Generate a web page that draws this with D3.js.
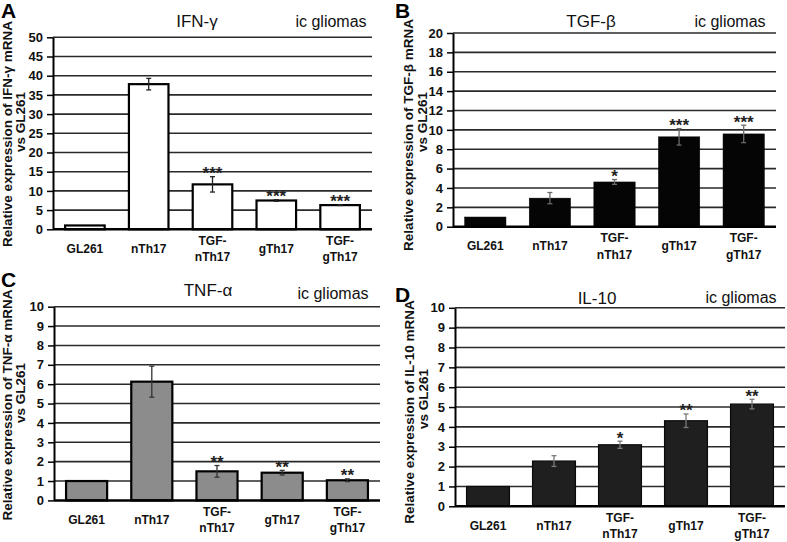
<!DOCTYPE html>
<html>
<head>
<meta charset="utf-8">
<script src="https://cdn.jsdelivr.net/npm/d3@7"></script>
<style>
  html, body { margin: 0; padding: 0; background: #fff; }
  svg { display: block; font-family: "Liberation Sans", Arial, sans-serif; }
</style>
</head>
<body>
<script>
// ---------- DATA ----------
const categories = ["GL261", "nTh17", "TGF-nTh17", "gTh17", "TGF-gTh17"];
const categoryLines = [["GL261"], ["nTh17"], ["TGF-", "nTh17"], ["gTh17"], ["TGF-", "gTh17"]];

const ifngValues = [1.0, 37.8, 11.7, 7.5, 6.3];
const ifngErrors = [0, 1.5, 2.0, 0.2, 0.1];
const ifngStars  = ["", "", "***", "***", "***"];
const ifngTicks  = [0, 5, 10, 15, 20, 25, 30, 35, 40, 45, 50];

const tgfbValues = [1.0, 2.95, 4.62, 9.28, 9.58];
const tgfbErrors = [0, 0.58, 0.25, 0.85, 0.9];
const tgfbStars  = ["", "", "*", "***", "***"];
const tgfbTicks  = [0, 2, 4, 6, 8, 10, 12, 14, 16, 18, 20];

const tnfaValues = [1.0, 6.13, 1.5, 1.43, 1.04];
const tnfaErrors = [0, 0.8, 0.3, 0.12, 0.07];
const tnfaStars  = ["", "", "**", "**", "**"];
const tnfaTicks  = [0, 1, 2, 3, 4, 5, 6, 7, 8, 9, 10];

const il10Values = [1.0, 2.28, 3.1, 4.31, 5.15];
const il10Errors = [0, 0.27, 0.18, 0.34, 0.24];
const il10Stars  = ["", "", "*", "**", "**"];
const il10Ticks  = [0, 1, 2, 3, 4, 5, 6, 7, 8, 9, 10];

const panelLetters = ["A", "B", "C", "D"];
const panelTitles = ["IFN-γ", "TGF-β", "TNF-α", "IL-10"];
const subTitle = "ic gliomas";
const yTitles = [
  ["Relative expression of IFN-γ mRNA", "vs GL261"],
  ["Relative expression of TGF-β mRNA", "vs GL261"],
  ["Relative expression of TNF-α mRNA", "vs GL261"],
  ["Relative expression of IL-10 mRNA", "vs GL261"]
];

// ---------- LAYOUT / STYLE ----------
const panels = [
  { values: ifngValues, errors: ifngErrors, stars: ifngStars, ticks: ifngTicks,
    x0: 53, x1: 372, y0: 229.3, y1: 37.3, pad: 0.38,
    fill: "#ffffff", stroke: "#000", strokeW: 2.2, errColor: "#222",
    letterX: 1, letterY: 18, titleX: 197, titleY: 27, subX: 331, subY: 27,
    yt1x: 11.5, yt1y: 134, yt2x: 24.5, yt2y: 122 },
  { values: tgfbValues, errors: tgfbErrors, stars: tgfbStars, ticks: tgfbTicks,
    x0: 453, x1: 776, y0: 226.7, y1: 33, pad: 0.36,
    fill: "#050505", stroke: "#050505", strokeW: 0.5, errColor: "#6a6a6a",
    letterX: 395, letterY: 18, titleX: 591, titleY: 27, subX: 730, subY: 27,
    yt1x: 413, yt1y: 135, yt2x: 426.5, yt2y: 122 },
  { values: tnfaValues, errors: tnfaErrors, stars: tnfaStars, ticks: tnfaTicks,
    x0: 54, x1: 380, y0: 500.4, y1: 306.7, pad: 0.37,
    fill: "#8c8c8c", stroke: "#000", strokeW: 2.2, errColor: "#333",
    letterX: 1, letterY: 287, titleX: 208, titleY: 296, subX: 333, subY: 299,
    yt1x: 11.5, yt1y: 405, yt2x: 24.5, yt2y: 393 },
  { values: il10Values, errors: il10Errors, stars: il10Stars, ticks: il10Ticks,
    x0: 455, x1: 785, y0: 506.3, y1: 307.8, pad: 0.35,
    fill: "#1f1f1f", stroke: "#0a0a0a", strokeW: 1.2, errColor: "#7a7a7a",
    letterX: 395, letterY: 302, titleX: 597, titleY: 304, subX: 741, subY: 303,
    yt1x: 414, yt1y: 412, yt2x: 427.5, yt2y: 399 }
];

const svg = d3.select("body").append("svg")
  .attr("width", 787).attr("height", 542);

svg.append("rect").attr("width", 787).attr("height", 542).attr("fill", "#fff");

panels.forEach((p, i) => {
  const g = svg.append("g");
  const maxV = p.ticks[p.ticks.length - 1];
  const x = d3.scaleBand().domain(categories).range([p.x0, p.x1])
    .paddingInner(p.pad).paddingOuter(p.pad / 2);
  const y = d3.scaleLinear().domain([0, maxV]).range([p.y0, p.y1]);

  // gridlines
  g.append("g").selectAll("line")
    .data(p.ticks.filter(t => t !== 0))
    .join("line")
    .attr("x1", p.x0).attr("x2", p.x1)
    .attr("y1", d => y(d)).attr("y2", d => y(d))
    .attr("stroke", "#2a2a2a").attr("stroke-width", 1.6);

  // bars
  const rows = categories.map((c, k) => ({ c, v: p.values[k], e: p.errors[k], s: p.stars[k], lines: categoryLines[k] }));
  g.append("g").selectAll("rect")
    .data(rows).join("rect")
    .attr("x", d => x(d.c)).attr("width", x.bandwidth())
    .attr("y", d => y(d.v)).attr("height", d => y(0) - y(d.v))
    .attr("fill", p.fill).attr("stroke", p.stroke).attr("stroke-width", p.strokeW);

  // error bars
  const eg = g.append("g").attr("stroke", p.errColor).attr("stroke-width", 1.3);
  rows.filter(d => d.e > 0).forEach(d => {
    const cx = x(d.c) + x.bandwidth() / 2;
    eg.append("line").attr("x1", cx).attr("x2", cx).attr("y1", y(d.v - d.e)).attr("y2", y(d.v + d.e));
    eg.append("line").attr("x1", cx - 2.5).attr("x2", cx + 2.5).attr("y1", y(d.v - d.e)).attr("y2", y(d.v - d.e));
    eg.append("line").attr("x1", cx - 2.5).attr("x2", cx + 2.5).attr("y1", y(d.v + d.e)).attr("y2", y(d.v + d.e));
  });

  // significance stars
  g.append("g").selectAll("text")
    .data(rows.filter(d => d.s)).join("text")
    .attr("x", d => x(d.c) + x.bandwidth() / 2)
    .attr("y", d => y(d.v + d.e) + 2.5)
    .attr("text-anchor", "middle")
    .attr("font-size", 17).attr("font-weight", "bold").attr("fill", "#222")
    .text(d => d.s);

  // y axis
  const ax = g.append("g").attr("transform", `translate(${p.x0},0)`)
    .call(d3.axisLeft(y).tickValues(p.ticks).tickSize(6).tickSizeOuter(0).tickPadding(4));
  ax.select(".domain").attr("stroke", "#000").attr("stroke-width", 2);
  ax.selectAll(".tick line").attr("stroke", "#000").attr("stroke-width", 1.5);
  ax.selectAll(".tick text").attr("font-size", 13).attr("font-weight", "bold")
    .attr("fill", "#111").attr("font-family", "Liberation Sans, Arial, sans-serif");

  // x baseline
  g.append("line").attr("x1", p.x0).attr("x2", p.x1).attr("y1", y(0)).attr("y2", y(0))
    .attr("stroke", "#000").attr("stroke-width", 2.5);

  // category labels
  rows.forEach(d => {
    const cx = x(d.c) + x.bandwidth() / 2;
    const ys = d.lines.length === 1 ? [y(0) + 23.5] : [y(0) + 15.5, y(0) + 32];
    d.lines.forEach((t, j) => {
      g.append("text").attr("x", cx).attr("y", ys[j])
        .attr("text-anchor", "middle").attr("font-size", 12).attr("font-weight", "bold")
        .attr("fill", "#111").text(t);
    });
  });

  // y axis title
  g.append("text").attr("transform", `translate(${p.yt1x},${p.yt1y}) rotate(-90)`)
    .attr("text-anchor", "middle").attr("font-size", 13.5).attr("font-weight", "bold")
    .attr("fill", "#111").text(yTitles[i][0]);
  g.append("text").attr("transform", `translate(${p.yt2x},${p.yt2y}) rotate(-90)`)
    .attr("text-anchor", "middle").attr("font-size", 13.5).attr("font-weight", "bold")
    .attr("fill", "#111").text(yTitles[i][1]);

  // titles
  g.append("text").attr("x", p.titleX).attr("y", p.titleY).attr("text-anchor", "middle")
    .attr("font-size", 17).attr("fill", "#111").text(panelTitles[i]);
  g.append("text").attr("x", p.subX).attr("y", p.subY).attr("text-anchor", "middle")
    .attr("font-size", 16).attr("fill", "#111").text(subTitle);

  // panel letter
  g.append("text").attr("x", p.letterX).attr("y", p.letterY)
    .attr("font-size", 21).attr("font-weight", "bold").attr("fill", "#000").text(panelLetters[i]);
});
</script>
</body>
</html>
